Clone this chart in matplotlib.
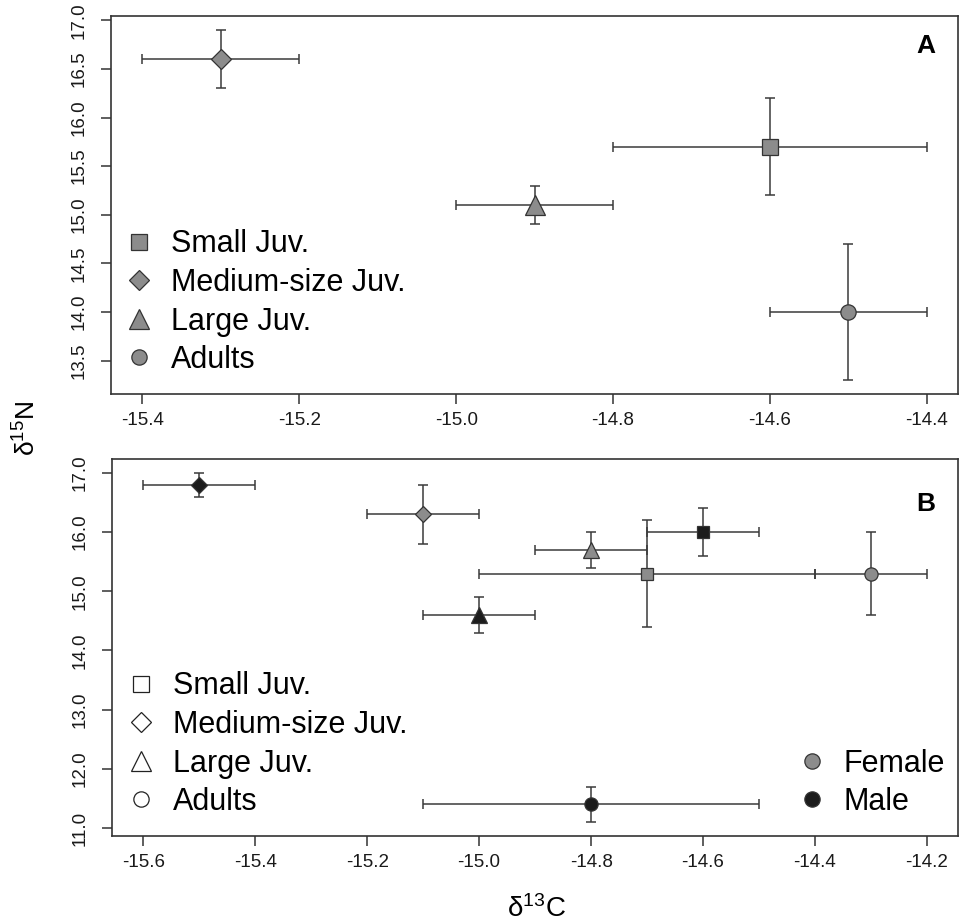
import matplotlib
matplotlib.use("Agg")
import matplotlib.pyplot as plt
from matplotlib.lines import Line2D
import numpy as np

plt.rcParams['font.family'] = ['Liberation Sans', 'DejaVu Sans']
plt.rcParams['axes.unicode_minus'] = False

groups = ['Small Juv.', 'Medium-size Juv.', 'Large Juv.', 'Adults']
markers = ['s', 'D', '^', 'o']

# panel A: all individuals
a_c13 = [-14.6, -15.3, -14.9, -14.5]
a_c13_err = [0.2, 0.1, 0.1, 0.1]
a_n15 = [15.7, 16.6, 15.1, 14.0]
a_n15_err = [0.5, 0.3, 0.2, 0.7]

# panel B: by sex
f_c13 = [-14.7, -15.1, -14.8, -14.3]
f_c13_err = [0.3, 0.1, 0.1, 0.1]
f_n15 = [15.3, 16.3, 15.7, 15.3]
f_n15_err = [0.9, 0.5, 0.3, 0.7]

m_c13 = [-14.6, -15.5, -15.0, -14.8]
m_c13_err = [0.1, 0.1, 0.1, 0.3]
m_n15 = [16.0, 16.8, 14.6, 11.4]
m_n15_err = [0.4, 0.2, 0.3, 0.3]

a_xticks = np.arange(-15.4, -14.39, 0.2)
a_yticks = np.arange(13.5, 17.01, 0.5)
b_xticks = np.arange(-15.6, -14.19, 0.2)
b_yticks = np.arange(11.0, 17.01, 1.0)

GRAY = '#8c8c8c'
BLACK = '#1c1c1c'
EDGE = '#333333'
LINE = '#3a3a3a'

# marker sizes per shape (pt)
a_ms = {'s': 11, 'D': 10, '^': 14, 'o': 11}
b_ms = {'s': 8.5, 'D': 8, '^': 11.5, 'o': 9.5}
leg_ms = {'s': 11, 'D': 10.5, '^': 15, 'o': 11}


def r_limits(vals, errs):
    lo = min(v - e for v, e in zip(vals, errs))
    hi = max(v + e for v, e in zip(vals, errs))
    pad = (hi - lo) * 0.04
    return lo - pad, hi + pad


def draw_points(ax, xs, xe, ys, ye, color, sizes):
    for x, dx, y, dy, m in zip(xs, xe, ys, ye, markers):
        ax.errorbar(x, y, xerr=dx, yerr=dy, fmt='none', ecolor=LINE,
                    elinewidth=1.1, capsize=3.8, capthick=1.1, zorder=2)
        ax.plot(x, y, marker=m, ms=sizes[m], mfc=color, mec=EDGE, mew=0.9,
                ls='none', zorder=3)


def style_axes(ax, xticks, yticks):
    for s in ax.spines.values():
        s.set_color(EDGE)
        s.set_linewidth(1.2)
    ax.set_xticks(xticks)
    ax.set_xticklabels(['%.1f' % t for t in xticks])
    ax.set_yticks(yticks)
    ax.set_yticklabels(['%.1f' % t for t in yticks], rotation=90, va='center')
    ax.tick_params(axis='both', direction='out', length=7, width=1.1,
                   color=EDGE, labelsize=13.5, labelcolor='#1a1a1a')
    ax.tick_params(axis='x', pad=6)
    ax.tick_params(axis='y', pad=10)


fig = plt.figure(figsize=(9.65, 9.21), dpi=100)
axA = fig.add_axes([0.115, 0.5722, 0.878, 0.4104])
axB = fig.add_axes([0.116, 0.0923, 0.877, 0.4093])

leg_kw = dict(loc='lower left', frameon=False, fontsize=22, handlelength=1.0,
              handletextpad=0.55, labelspacing=0.28, borderpad=0, borderaxespad=0)

# panel A
draw_points(axA, a_c13, a_c13_err, a_n15, a_n15_err, GRAY, a_ms)
axA.set_xlim(*r_limits(a_c13, a_c13_err))
axA.set_ylim(*r_limits(a_n15, a_n15_err))
style_axes(axA, a_xticks, a_yticks)
axA.text(0.962, 0.92, 'A', transform=axA.transAxes, fontsize=19,
         fontweight='bold', ha='center', va='center')

hA = [Line2D([], [], marker=m, ls='none', ms=leg_ms[m], mfc=GRAY, mec=EDGE,
             mew=0.9) for m in markers]
axA.legend(hA, groups, bbox_to_anchor=(0.015, 0.05), **leg_kw)

# panel B
draw_points(axB, f_c13, f_c13_err, f_n15, f_n15_err, GRAY, b_ms)
draw_points(axB, m_c13, m_c13_err, m_n15, m_n15_err, BLACK, b_ms)
axB.set_xlim(*r_limits(f_c13 + m_c13, f_c13_err + m_c13_err))
axB.set_ylim(*r_limits(f_n15 + m_n15, f_n15_err + m_n15_err))
style_axes(axB, b_xticks, b_yticks)
axB.text(0.962, 0.88, 'B', transform=axB.transAxes, fontsize=19,
         fontweight='bold', ha='center', va='center')

hB = [Line2D([], [], marker=m, ls='none', ms=leg_ms[m], mfc='white', mec='#222222',
             mew=0.9) for m in markers]
legB = axB.legend(hB, groups, bbox_to_anchor=(0.016, 0.05), **leg_kw)
axB.add_artist(legB)
hS = [Line2D([], [], marker='o', ls='none', ms=11, mfc=c, mec=EDGE, mew=0.9)
      for c in (GRAY, BLACK)]
axB.legend(hS, ['Female', 'Male'], bbox_to_anchor=(0.809, 0.05), **leg_kw)

fig.text(0.028, 0.535, r'$\mathregular{δ^{15}}$N', rotation=90, fontsize=19,
         ha='center', va='center')
fig.text(0.556, 0.013, r'$\mathregular{δ^{13}}$C', fontsize=20,
         ha='center', va='center')

fig.savefig('out.png', dpi=100)
